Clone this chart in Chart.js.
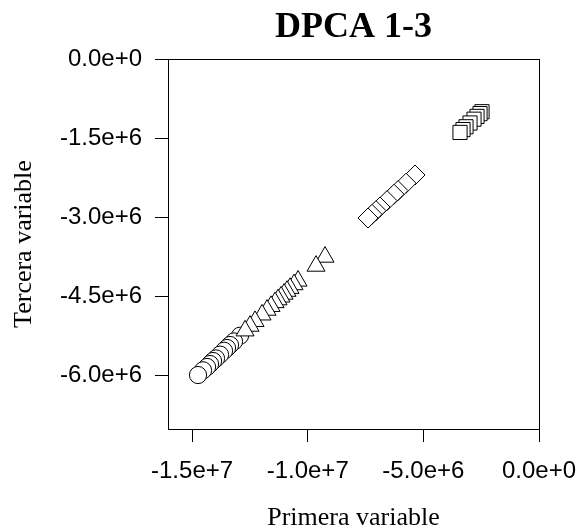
<!DOCTYPE html>
<html>
<head>
<meta charset="utf-8">
<script src="https://cdn.jsdelivr.net/npm/chart.js@4"></script>
<style>
  html, body { margin: 0; padding: 0; background: #ffffff; }
  canvas { display: block; }
</style>
</head>
<body>
<canvas id="chart" width="582" height="531"></canvas>
<script>
// Text
const chartTitle = 'DPCA 1-3';
const xTitle = 'Primera variable';
const yTitle = 'Tercera variable';

// Axis ticks and ranges
const xTickValues = [-15000000, -10000000, -5000000, 0];
const xTickLabels = ['-1.5e+7', '-1.0e+7', '-5.0e+6', '0.0e+0'];
const yTickValues = [0, -1500000, -3000000, -4500000, -6000000];
const yTickLabels = ['0.0e+0', '-1.5e+6', '-3.0e+6', '-4.5e+6', '-6.0e+6'];
const xRange = [-16040000, 0];
const yRange = [-7025000, 0];

// Group drawn with squares
const squareX = [-2464000, -2550000, -2680000, -2810000, -2983000, -3156000, -3285000, -3415000];
const squareY = [-1001000, -1037000, -1090000, -1143000, -1215000, -1287000, -1340000, -1394000];

// Group drawn with diamonds
const diamondX = [-5360000, -5749000, -6095000, -6268000, -6571000, -6874000, -7047000, -7220000, -7392000];
const diamondY = [-2203000, -2358000, -2499000, -2567000, -2689000, -2810000, -2880000, -2949000, -3019000];

// Group drawn with triangles
const triangleX = [-9251000, -9640000, -10418000, -10591000, -10764000, -10894000, -11023000, -11153000,
                   -11283000, -11412000, -11585000, -11758000, -11974000, -12277000, -12493000, -12709000];
const triangleY = [-3759000, -3930000, -4213000, -4282000, -4352000, -4407000, -4462000, -4515000,
                   -4568000, -4622000, -4694000, -4766000, -4856000, -4980000, -5070000, -5159000];

// Group drawn with circles
const circleX = [-12925000, -13185000, -13358000, -13487000, -13617000, -13790000, -13963000,
                 -14093000, -14223000, -14352000, -14525000, -14742000];
const circleY = [-5254000, -5362000, -5430000, -5487000, -5540000, -5613000, -5685000,
                 -5734000, -5791000, -5847000, -5911000, -6000000];

const toPoints = (xs, ys) => xs.map((x, i) => ({ x: x, y: ys[i] }));

const sansFont = '"Liberation Sans", Arial, Helvetica, sans-serif';
const serifFont = '"Liberation Serif", "Times New Roman", Times, serif';

function markerSet(label, xs, ys, style, radius) {
  return {
    label: label,
    data: toPoints(xs, ys),
    pointStyle: style,
    pointRadius: radius,
    pointHoverRadius: radius,
    pointBorderWidth: 1,
    pointHoverBorderWidth: 1,
    pointBackgroundColor: '#ffffff',
    pointBorderColor: '#000000',
    backgroundColor: '#ffffff',
    borderColor: '#000000',
    showLine: false
  };
}

// Frame around the plotting region
const plotBox = {
  id: 'plotBox',
  beforeDatasetsDraw(chart) {
    const { ctx, chartArea: a } = chart;
    ctx.save();
    ctx.strokeStyle = '#000000';
    ctx.lineWidth = 1;
    ctx.strokeRect(Math.round(a.left) + 0.5, Math.round(a.top) + 0.5,
                   Math.round(a.right - a.left), Math.round(a.bottom - a.top));
    ctx.restore();
  }
};

new Chart(document.getElementById('chart'), {
  type: 'scatter',
  data: {
    datasets: [
      markerSet('squares', squareX, squareY, 'rect', 10),
      markerSet('diamonds', diamondX, diamondY, 'rectRot', 10),
      markerSet('triangles', triangleX, triangleY, 'triangle', 10.4),
      markerSet('circles', circleX, circleY, 'circle', 8.6)
    ]
  },
  options: {
    responsive: false,
    devicePixelRatio: 1,
    animation: false,
    events: [],
    layout: { padding: { left: 0, right: 43, top: 0, bottom: 0 } },
    plugins: {
      legend: { display: false },
      tooltip: { enabled: false },
      title: {
        display: true,
        text: chartTitle,
        fullSize: false,
        color: '#000000',
        font: { family: serifFont, size: 36, weight: 'bold', lineHeight: 1.2 },
        padding: { top: 6.4, bottom: 9.4 }
      }
    },
    scales: {
      x: {
        type: 'linear',
        position: 'bottom',
        min: xRange[0],
        max: xRange[1],
        afterBuildTicks: s => { s.ticks = xTickValues.map(v => ({ value: v })); },
        afterFit: s => { s.height = 102; s.paddingLeft = 0; s.paddingRight = 0; },
        grid: { display: true, drawOnChartArea: false, drawTicks: true, tickLength: 13, color: '#000000', lineWidth: 1 },
        border: { display: false },
        ticks: {
          color: '#000000',
          font: { family: sansFont, size: 24 },
          padding: 15,
          maxRotation: 0,
          autoSkip: false,
          callback: v => xTickLabels[xTickValues.indexOf(v)]
        },
        title: {
          display: true,
          text: xTitle,
          color: '#000000',
          font: { family: serifFont, size: 26, lineHeight: 1 },
          padding: { top: 0, bottom: 0 }
        }
      },
      y: {
        type: 'linear',
        position: 'left',
        min: yRange[0],
        max: yRange[1],
        afterBuildTicks: s => { s.ticks = yTickValues.map(v => ({ value: v })); },
        afterFit: s => { s.width = 168; s.paddingTop = 0; s.paddingBottom = 0; },
        grid: { display: true, drawOnChartArea: false, drawTicks: true, tickLength: 13, color: '#000000', lineWidth: 1 },
        border: { display: false },
        ticks: {
          color: '#000000',
          font: { family: sansFont, size: 24 },
          padding: 13,
          autoSkip: false,
          callback: v => yTickLabels[yTickValues.indexOf(v)]
        },
        title: {
          display: true,
          text: yTitle,
          color: '#000000',
          font: { family: serifFont, size: 26, lineHeight: 1 },
          padding: { top: 11, bottom: 0 }
        }
      }
    }
  },
  plugins: [plotBox]
});
</script>
</body>
</html>
